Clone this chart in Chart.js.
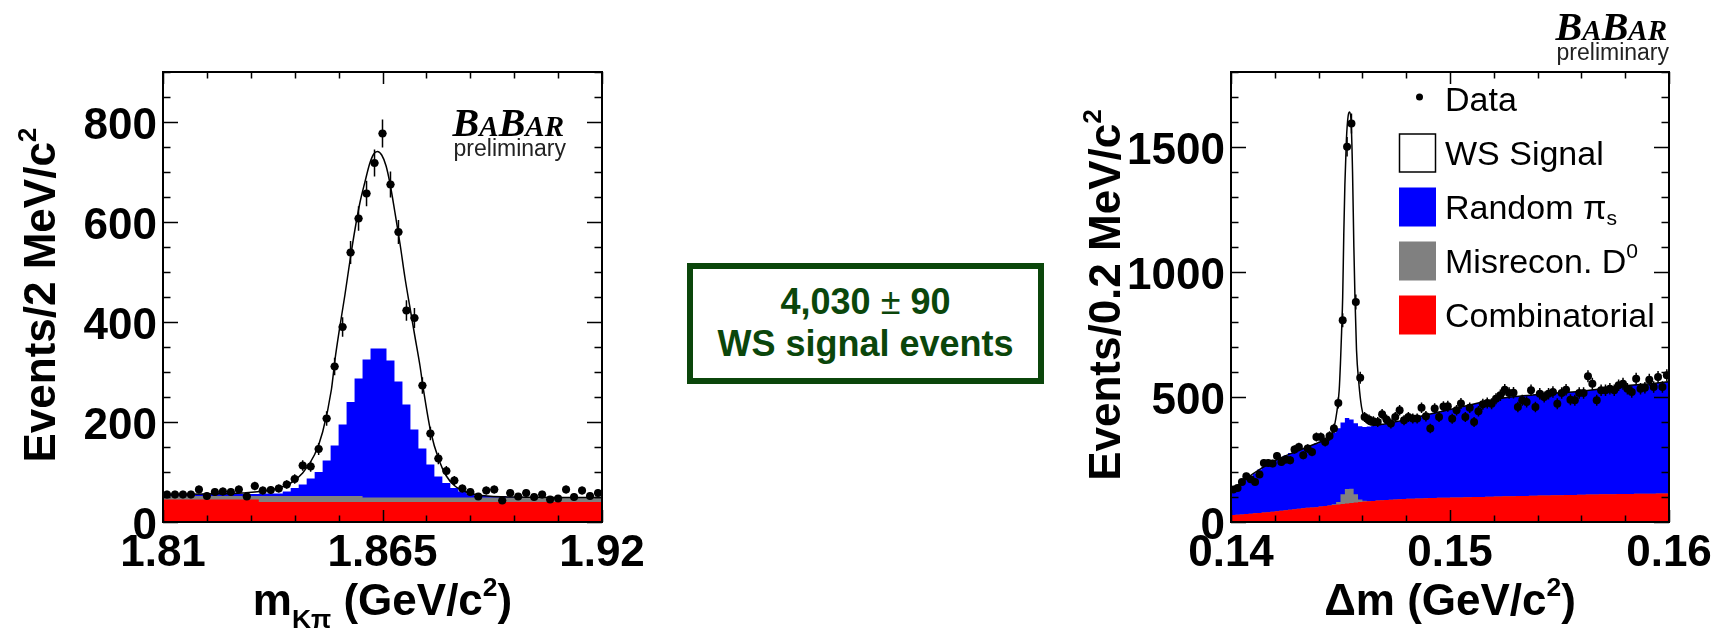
<!DOCTYPE html>
<html>
<head>
<meta charset="utf-8">
<script src="https://cdn.jsdelivr.net/npm/chart.js@4.4.1/dist/chart.umd.min.js"></script>
<style>
  html, body { margin: 0; padding: 0; background: #fff; }
  body { width: 1722px; height: 631px; position: relative; overflow: hidden; }
  canvas { position: absolute; top: 0; }
  #massChart { left: 0; }
  #dmChart { left: 1050px; }
  #yieldBox {
    position: absolute; left: 687px; top: 263px; width: 357px; height: 121px;
    box-sizing: border-box; border: 6px solid #0b460b; padding-top: 12px;
    color: #0b460b; font: bold 36px "Liberation Sans", Arial, sans-serif;
    line-height: 41.5px; text-align: center;
  }
  #yieldBox .pm { font-weight: normal; }
</style>
</head>
<body>
<canvas id="massChart" width="680" height="631"></canvas>
<div id="yieldBox"><div>4,030 <span class="pm">±</span> 90</div><div>WS signal events</div></div>
<canvas id="dmChart" width="672" height="631"></canvas>
<script>
// ---------------- m(Kπ) panel: 55 bins of 2 MeV ----------------
const massRange = [1.81, 1.92];
const massData = [
  55, 55, 55, 55, 65, 52, 60, 61, 60, 65,
  51, 72, 63, 64, 67, 75, 86, 113, 111, 146,
  207, 311, 390, 539, 607, 657, 718, 777, 675, 580,
  423, 408, 273, 177, 127, 102, 83, 67, 60, 51,
  63, 65, 43, 58, 51, 58, 50, 55, 45, 47,
  65, 50, 63, 52, 58
];
const massCombinatorial = [
  45, 45, 45, 45, 45, 45, 45, 45, 45, 45, 45, 45,
  40, 40, 40, 40, 40, 40, 40, 40, 40, 40, 40, 40, 40, 40, 40, 40, 40, 40,
  40, 40, 40, 40, 40, 40, 40, 40, 40, 40, 40, 40, 40, 40, 40, 40, 40, 40,
  40, 40, 40, 40, 40, 40, 40
];
const massMisrecon = [
  7, 7, 7, 7, 7, 7, 7, 7, 7, 7, 7, 7,
  12, 12, 12, 12, 12, 12, 12, 12, 12, 12, 12, 12, 12,
  9, 9, 9, 9, 9, 9, 9, 9, 9, 9, 9, 9, 9, 9, 9,
  9, 9, 9, 9, 9, 9, 9, 9, 9, 9, 9, 9, 9, 9, 9
];
// upper edge of the background stack (combinatorial + misreconstructed + random pi_s)
const massRandomPiTop = [
  56, 56, 56, 56, 56, 56, 56, 56, 56, 56, 56, 56, 57, 57, 57,
  61, 68, 75, 87, 100, 123, 153, 195, 240, 287, 325, 347, 347, 323, 281,
  235, 185, 147, 115, 91, 78, 68, 61, 57, 53, 52, 52, 52,
  50, 50, 50, 50, 50, 50, 50, 50, 50, 50, 50, 50
];
const massFitX = [
  1.8100, 1.8200, 1.8300, 1.8380, 1.8420, 1.8450, 1.8480, 1.8500, 1.8522, 1.8531,
  1.8543, 1.8556, 1.8568, 1.8581, 1.8593, 1.8606, 1.8618, 1.8628, 1.8637, 1.8648,
  1.8659, 1.8669, 1.8681, 1.8694, 1.8706, 1.8719, 1.8731, 1.8744, 1.8752, 1.8771,
  1.8791, 1.8810, 1.8830, 1.8860, 1.8900, 1.8980, 1.9200
];
const massFitY = [
  55, 56, 58, 66, 78, 98, 135, 180, 265, 325,
  390, 455, 520, 585, 637, 680, 717, 736, 741, 734,
  712, 676, 620, 556, 490, 428, 372, 312, 268, 180,
  125, 92, 73, 60, 53, 50, 49
];
const massYMax = 900;
const massXStep = 0.011;
const massXMajor = [1.81, 1.865, 1.92];
const massXLabels = ['1.81', '1.865', '1.92'];
const massYStep = 50;
const massYMajor = [0, 200, 400, 600, 800];
const massYLabels = ['0', '200', '400', '600', '800'];

// ---------------- Δm panel: 100 bins of 0.2 MeV ----------------
const dmRange = [0.14, 0.16];
const dmData = [
  130, 136, 160, 183, 171, 160, 190, 236, 236, 234,
  264, 240, 250, 247, 290, 300, 267, 294, 280, 340,
  340, 320, 344, 374, 476, 807, 1501, 1594, 880, 577,
  420, 410, 403, 400, 431, 410, 394, 420, 447, 407,
  420, 414, 414, 457, 423, 374, 454, 420, 462, 463,
  413, 447, 474, 420, 457, 400, 443, 471, 476, 473,
  493, 507, 529, 516, 517, 460, 487, 480, 527, 460,
  513, 500, 513, 520, 473, 516, 529, 489, 487, 516,
  516, 583, 553, 487, 527, 527, 533, 527, 547, 553,
  533, 520, 573, 533, 537, 569, 540, 580, 540, 587
];
const dmCombinatorial = [
  28, 29, 30, 32, 33, 35, 36, 38, 39, 41,
  43, 45, 47, 49, 51, 53, 55, 57, 58, 59,
  62, 64, 66, 68, 70, 72, 74, 76, 78, 80,
  82, 83, 84, 86, 87, 88, 89, 90, 91, 92,
  93, 93, 94, 94, 95, 96, 96, 97, 97, 97,
  98, 98, 98, 99, 99, 100, 100, 100, 101, 101,
  102, 102, 103, 103, 103, 104, 104, 104, 105, 105,
  106, 106, 106, 107, 107, 107, 108, 108, 108, 109,
  109, 110, 110, 110, 111, 111, 111, 111, 112, 112,
  112, 112, 113, 113, 113, 113, 113, 114, 114, 114
];
const dmMisrecon = [
  0, 0, 0, 0, 0, 0, 0, 0, 0, 0,
  0, 0, 0, 0, 0, 0, 0, 0, 0, 0,
  0, 0, 0, 3, 10, 39, 58, 57, 33, 10,
  3, 0, 0, 0, 0, 0, 0, 0, 0, 0,
  0, 0, 0, 0, 0, 0, 0, 0, 0, 0,
  0, 0, 0, 0, 0, 0, 0, 0, 0, 0,
  0, 0, 0, 0, 0, 0, 0, 0, 0, 0,
  0, 0, 0, 0, 0, 0, 0, 0, 0, 0,
  0, 0, 0, 0, 0, 0, 0, 0, 0, 0,
  0, 0, 0, 0, 0, 0, 0, 0, 0, 0
];
const dmRandomPiTop = [
  122, 140, 158, 175, 185, 195, 210, 222, 230, 240,
  248, 258, 266, 276, 282, 287, 292, 300, 308, 315,
  322, 332, 342, 358, 375, 398, 416, 410, 395, 383,
  380, 382, 385, 387, 390, 393, 396, 400, 404, 408,
  412, 416, 420, 425, 429, 433, 437, 441, 446, 450,
  452, 455, 459, 463, 467, 472, 476, 480, 484, 487,
  491, 494, 497, 500, 501, 503, 504, 506, 508, 510,
  511, 512, 514, 516, 517, 518, 519, 520, 520, 522,
  524, 526, 528, 530, 532, 535, 537, 539, 542, 544,
  546, 548, 549, 551, 552, 553, 555, 556, 558, 560
];
const dmFitX = [
  0.1400, 0.1410, 0.1420, 0.1430, 0.1440, 0.1445, 0.14467, 0.14482, 0.14494, 0.14500,
  0.14505, 0.14510, 0.14515, 0.14520, 0.14527, 0.14535, 0.14542, 0.14549, 0.14555, 0.14561,
  0.14566, 0.14573, 0.14584, 0.14596, 0.14611, 0.14626, 0.14657, 0.1470, 0.1480, 0.1490,
  0.1500, 0.1510, 0.1520, 0.1530, 0.1540, 0.1550, 0.1560, 0.1570, 0.1580, 0.1590, 0.1600
];
const dmFitY = [
  124, 193, 245, 283, 318, 338, 367, 433, 527, 640,
  760, 900, 1150, 1350, 1530, 1625, 1640, 1590, 1400, 1100,
  900, 690, 553, 460, 407, 393, 387, 392, 410, 430,
  450, 470, 490, 502, 510, 517, 523, 534, 545, 552, 561
];
const dmYMax = 1800;
const dmXStep = 0.002;
const dmXMajor = [0.14, 0.15, 0.16];
const dmXLabels = ['0.14', '0.15', '0.16'];
const dmYStep = 100;
const dmYMajor = [0, 500, 1000, 1500];
const dmYLabels = ['0', '500', '1000', '1500'];

const legendEntries = [
  { kind: 'data', text: [{ t: 'Data' }] },
  { kind: 'signal', text: [{ t: 'WS Signal' }] },
  { kind: 'randomPi', text: [{ t: 'Random π' }, { t: 's', sub: true }] },
  { kind: 'misrecon', text: [{ t: 'Misrecon. D' }, { t: '0', sup: true }] },
  { kind: 'combinatorial', text: [{ t: 'Combinatorial' }] }
];

// ---------------- styling ----------------
const SANS = '"Liberation Sans", Arial, sans-serif';
const SERIF = '"Liberation Serif", "Times New Roman", serif';
const COLORS = {
  data: '#000000', signal: '#ffffff', randomPi: '#0000ff',
  misrecon: '#808080', combinatorial: '#ff0000', line: '#000000'
};

// ---------------- helpers ----------------
function histSteps(values, lo, hi) {
  const w = (hi - lo) / values.length;
  const pts = values.map((v, i) => ({ x: lo + i * w, y: v }));
  pts.push({ x: hi, y: values[values.length - 1] });
  return pts;
}
function binCenters(values, lo, hi) {
  const w = (hi - lo) / values.length;
  return values.map((v, i) => ({ x: lo + (i + 0.5) * w, y: v }));
}
function stackSum(a, b) { return a.map((v, i) => v + b[i]); }
function tickList(lo, hi, step) {
  const n = Math.round((hi - lo) / step), out = [];
  for (let i = 0; i <= n; i++) out.push(+(lo + i * step).toFixed(6));
  return out;
}
function labelFor(majors, labels) {
  return v => {
    const j = majors.findIndex(m => Math.abs(m - v) < 1e-9);
    return j < 0 ? '' : labels[j];
  };
}

// text runs with sub/superscripts; each part may carry its own size/style
function drawRich(ctx, parts, x, y, base, align) {
  const segs = parts.map(p => {
    const size = p.size || ((p.sub || p.sup) ? base.size * (base.smallScale || 0.55) : base.size);
    const font = `${p.style || base.style || 'normal'} ${p.weight || base.weight || 'normal'} ${size}px ${p.family || base.family}`;
    ctx.font = font;
    const dy = p.sup ? -(base.supShift || 0.42) * base.size : p.sub ? (base.subShift || 0.3) * base.size : 0;
    return { t: p.t, font, w: ctx.measureText(p.t).width, dy };
  });
  const total = segs.reduce((s, g) => s + g.w, 0);
  let cx = align === 'center' ? x - total / 2 : align === 'right' ? x - total : x;
  ctx.textAlign = 'left';
  ctx.textBaseline = 'alphabetic';
  segs.forEach(g => { ctx.font = g.font; ctx.fillText(g.t, cx, y + g.dy); cx += g.w; });
}

// ROOT-like frame, inward ticks on all four sides, error bars, titles, logo, legend
const rootStyle = {
  id: 'rootStyle',
  afterDatasetsDraw(chart) {
    const ctx = chart.ctx, a = chart.chartArea;
    const xs = chart.scales.x, ys = chart.scales.y;
    chart.data.datasets.forEach(ds => {
      if (!ds.errorBars) return;
      ctx.save();
      ctx.beginPath(); ctx.rect(a.left, a.top, a.width, a.height); ctx.clip();
      ctx.strokeStyle = COLORS.data; ctx.lineWidth = 1.5;
      ctx.beginPath();
      ds.data.forEach(p => {
        const e = Math.sqrt(p.y);
        const px = xs.getPixelForValue(p.x), py = ys.getPixelForValue(p.y);
        ctx.moveTo(px, ys.getPixelForValue(p.y - e));
        ctx.lineTo(px, ys.getPixelForValue(p.y + e));
        ctx.moveTo(xs.getPixelForValue(p.x - ds.halfBin), py);
        ctx.lineTo(xs.getPixelForValue(p.x + ds.halfBin), py);
      });
      ctx.stroke();
      ctx.restore();
    });

    ctx.save();
    ctx.strokeStyle = '#000';
    ctx.lineWidth = 1.5;
    ctx.beginPath();
    xs.ticks.forEach(t => {
      const px = Math.round(xs.getPixelForValue(t.value)) + 0.5;
      const len = t.label ? 12 : 6.5;
      ctx.moveTo(px, a.bottom); ctx.lineTo(px, a.bottom - len);
      ctx.moveTo(px, a.top); ctx.lineTo(px, a.top + len);
    });
    ys.ticks.forEach(t => {
      const py = Math.round(ys.getPixelForValue(t.value)) + 0.5;
      const len = t.label ? 15 : 7.5;
      ctx.moveTo(a.left, py); ctx.lineTo(a.left + len, py);
      ctx.moveTo(a.right, py); ctx.lineTo(a.right - len, py);
    });
    ctx.stroke();
    ctx.lineWidth = 2;
    ctx.strokeRect(a.left, a.top, a.width, a.height);
    ctx.restore();
  },
  afterDraw(chart, args, o) {
    const ctx = chart.ctx, a = chart.chartArea;
    ctx.save();
    ctx.fillStyle = '#000';
    const titleFont = { size: 44, weight: 'bold', family: SANS, smallScale: 0.6, supShift: 0.44, subShift: 0.3 };
    // y title, rotated
    ctx.save();
    ctx.translate(o.yTitleX, (a.top + a.bottom) / 2 - 2);
    ctx.rotate(-Math.PI / 2);
    drawRich(ctx, o.yTitle, 0, 0, titleFont, 'center');
    ctx.restore();
    // x title
    drawRich(ctx, o.xTitle, (a.left + a.right) / 2, o.xTitleY, titleFont, 'center');

    // experiment logo
    const lg = o.logo;
    drawRich(ctx, [
      { t: 'B', size: 40 }, { t: 'A', size: 29 }, { t: 'B', size: 40 }, { t: 'A', size: 29 }, { t: 'R', size: 29 }
    ], lg.right, lg.baseline, { size: 40, style: 'italic', weight: 'bold', family: SERIF }, 'right');
    ctx.fillStyle = '#222';
    drawRich(ctx, [{ t: 'preliminary' }], lg.right + 2, lg.baseline + 20, { size: 23, family: SANS }, 'right');
    ctx.fillStyle = '#000';

    // legend
    if (o.legend) {
      const L = o.legend;
      const bx = a.left + L.dx;
      o.legend.entries.forEach((en, i) => {
        const cy = a.top + L.dy + i * L.step;
        if (en.kind === 'data') {
          ctx.beginPath(); ctx.arc(bx + L.w / 2 + 2, cy - 2, 3.5, 0, Math.PI * 2); ctx.fill();
        } else if (en.kind === 'signal') {
          ctx.fillStyle = COLORS.signal; ctx.fillRect(bx, cy - L.h / 2, L.w, L.h);
          ctx.strokeStyle = '#000'; ctx.lineWidth = 1.5;
          ctx.strokeRect(bx + 0.5, cy - L.h / 2 + 0.5, L.w - 1, L.h - 1);
        } else {
          ctx.fillStyle = COLORS[en.kind]; ctx.fillRect(bx, cy - L.h / 2, L.w, L.h);
        }
        ctx.fillStyle = '#000';
        drawRich(ctx, en.text, bx + L.w + 9, cy + 12,
          { size: 34, family: SANS, smallScale: 0.62, supShift: 0.45, subShift: 0.18 }, 'left');
      });
    }
    ctx.restore();
  }
};

function axisX(range, step, majors, labels) {
  return {
    type: 'linear', min: range[0], max: range[1],
    grid: { display: false, drawTicks: false }, border: { display: false },
    afterBuildTicks: s => { s.ticks = tickList(range[0], range[1], step).map(v => ({ value: v })); },
    afterFit: s => { s.height = 109; },
    ticks: {
      autoSkip: false, maxRotation: 0, minRotation: 0, padding: 5, color: '#000',
      font: { family: SANS, weight: 'bold', size: 44 },
      callback: labelFor(majors, labels)
    }
  };
}
function axisY(max, step, majors, labels, width) {
  return {
    type: 'linear', min: 0, max: max,
    grid: { display: false, drawTicks: false }, border: { display: false },
    afterBuildTicks: s => { s.ticks = tickList(0, max, step).map(v => ({ value: v })); },
    afterFit: s => { s.width = width; },
    ticks: {
      autoSkip: false, padding: 6, labelOffset: 5, color: '#000',
      font: { family: SANS, weight: 'bold', size: 44 },
      callback: labelFor(majors, labels)
    }
  };
}

function panelDatasets(range, data, comb, misrecon, randomTop, fitX, fitY) {
  const halfBin = (range[1] - range[0]) / data.length / 2;
  return [
    { label: 'Data', data: binCenters(data, range[0], range[1]), showLine: false,
      pointRadius: 4, pointBackgroundColor: COLORS.data, pointBorderWidth: 0,
      errorBars: true, halfBin, order: 0 },
    { label: 'Fit', data: fitX.map((x, i) => ({ x, y: fitY[i] })), borderColor: COLORS.line,
      borderWidth: 1.5, pointRadius: 0, cubicInterpolationMode: 'monotone', fill: false, order: 1 },
    { label: 'Combinatorial', data: histSteps(comb, range[0], range[1]), stepped: 'before',
      borderWidth: 0, pointRadius: 0, fill: 'origin', backgroundColor: COLORS.combinatorial, order: 2 },
    { label: 'Misrecon. D0', data: histSteps(stackSum(comb, misrecon), range[0], range[1]), stepped: 'before',
      borderWidth: 0, pointRadius: 0, fill: 'origin', backgroundColor: COLORS.misrecon, order: 3 },
    { label: 'Random pi_s', data: histSteps(randomTop, range[0], range[1]), stepped: 'before',
      borderWidth: 0, pointRadius: 0, fill: 'origin', backgroundColor: COLORS.randomPi, order: 4 }
  ];
}

function baseOptions(padRight, xAxis, yAxis, styleOpts) {
  return {
    responsive: false, devicePixelRatio: 1, animation: false, events: [],
    layout: { padding: { left: 0, right: padRight, top: 72, bottom: 0 } },
    scales: { x: xAxis, y: yAxis },
    plugins: { legend: { display: false }, tooltip: { enabled: false }, rootStyle: styleOpts }
  };
}

new Chart(document.getElementById('massChart'), {
  type: 'line',
  data: { datasets: panelDatasets(massRange, massData, massCombinatorial, massMisrecon, massRandomPiTop, massFitX, massFitY) },
  options: baseOptions(78,
    axisX(massRange, massXStep, massXMajor, massXLabels),
    axisY(massYMax, massYStep, massYMajor, massYLabels, 163),
    {
      yTitle: [{ t: 'Events/2 MeV/c' }, { t: '2', sup: true }], yTitleX: 55,
      xTitle: [{ t: 'm' }, { t: 'Kπ', sub: true }, { t: ' (GeV/c' }, { t: '2', sup: true }, { t: ')' }], xTitleY: 615,
      logo: { right: 564, baseline: 136 }
    }),
  plugins: [rootStyle]
});

new Chart(document.getElementById('dmChart'), {
  type: 'line',
  data: { datasets: panelDatasets(dmRange, dmData, dmCombinatorial, dmMisrecon, dmRandomPiTop, dmFitX, dmFitY) },
  options: baseOptions(53,
    axisX(dmRange, dmXStep, dmXMajor, dmXLabels),
    axisY(dmYMax, dmYStep, dmYMajor, dmYLabels, 181),
    {
      yTitle: [{ t: 'Events/0.2 MeV/c' }, { t: '2', sup: true }], yTitleX: 70,
      xTitle: [{ t: 'Δm (GeV/c' }, { t: '2', sup: true }, { t: ')' }], xTitleY: 615,
      logo: { right: 617, baseline: 40 },
      legend: { dx: 168, dy: 27, step: 54, w: 37, h: 39, entries: legendEntries }
    }),
  plugins: [rootStyle]
});
</script>
</body>
</html>
